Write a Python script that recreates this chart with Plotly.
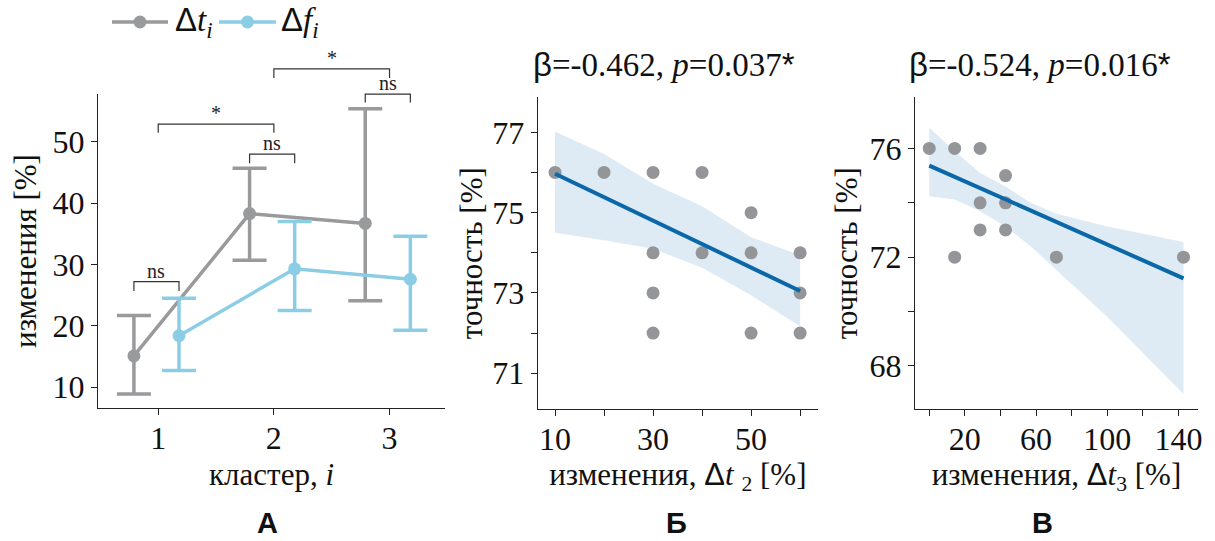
import plotly.graph_objects as go

# ---------------- data ----------------
clusters = [1, 2, 3]
dt_mean = [15.1, 38.3, 36.7]
dt_hi = [21.7, 45.7, 55.4]
dt_lo = [8.9, 30.7, 24.1]
df_mean = [18.4, 29.3, 27.6]
df_hi = [24.5, 37.0, 34.6]
df_lo = [12.7, 22.5, 19.3]
dodge_t = -0.21
dodge_f = 0.18
series_names = ["<span style='font-family:Liberation Sans'>Δ</span><i>t</i><sub><i>i</i></sub>",
                "<span style='font-family:Liberation Sans'>Δ</span><i>f</i><sub><i>i</i></sub>"]

# panel B scatter
b_x = [10, 20, 30, 40, 50, 30, 40, 50, 60, 30, 60, 30, 50, 60]
b_y = [76, 76, 76, 76, 75, 74, 74, 74, 74, 73, 73, 72, 72, 72]
b_fit_x = [10, 60]
b_fit_y = [75.97, 73.05]
b_ci_x = [10, 20, 30, 40, 50, 60]
b_ci_hi = [77.02, 76.46, 75.72, 75.16, 74.39, 73.94]
b_ci_lo = [74.50, 74.31, 74.10, 73.63, 72.94, 72.17]

# panel C scatter
c_x = [0, 14.29, 28.57, 42.86, 28.57, 42.86, 28.57, 42.86, 14.29, 71.43, 142.86]
c_y = [76, 76, 76, 75, 74, 74, 73, 73, 72, 72, 72]
c_fit_x = [0, 142.86]
c_fit_y = [75.37, 71.22]
c_ci_x = [0, 14.29, 28.57, 42.86, 57, 71.43, 100, 142.86]
c_ci_hi = [76.76, 75.9, 75.1, 74.6, 74.0, 73.6, 73.13, 72.56]
c_ci_lo = [74.24, 74.12, 73.69, 73.13, 72.4, 71.53, 69.81, 66.96]

# significance brackets: (x0, x1, y_top, y_leg, label)
brackets = [
    (0.79, 1.18, 27.2, 25.7, "ns"),
    (1.0, 2.0, 52.9, 51.5, "*"),
    (1.79, 2.18, 48.0, 46.5, "ns"),
    (2.0, 3.0, 61.9, 60.4, "*"),
    (2.79, 3.18, 57.8, 56.4, "ns"),
]

GRAY = "#999a9c"
SKY = "#8ccde6"
FIT = "#0a67a8"
BAND = "rgba(190,215,235,0.5)"
PT = "#939598"
AX = "#222222"
SERIF = "Liberation Serif"
SANS = "Liberation Sans"
W, H = 1215, 541

A_X = [0.48, 3.48]
A_Y = [6.6, 57.8]
B_X = [6.48, 63.66]
B_Y = [70.11, 77.87]
C_X = [-8.0, 151.0]
C_Y = [66.41, 77.88]

fig = go.Figure()

# ---------- Panel A ----------
fig.add_trace(go.Scatter(
    x=[c + dodge_t for c in clusters], y=dt_mean, mode="lines+markers",
    line=dict(color=GRAY, width=3.5), marker=dict(size=13, color=GRAY),
    error_y=dict(type="data", symmetric=False,
                 array=[h - m for h, m in zip(dt_hi, dt_mean)],
                 arrayminus=[m - l for m, l in zip(dt_mean, dt_lo)],
                 color=GRAY, thickness=3.5, width=17),
    name=series_names[0], xaxis="x", yaxis="y", showlegend=False))
fig.add_trace(go.Scatter(
    x=[c + dodge_f for c in clusters], y=df_mean, mode="lines+markers",
    line=dict(color=SKY, width=3.5), marker=dict(size=13, color=SKY),
    error_y=dict(type="data", symmetric=False,
                 array=[h - m for h, m in zip(df_hi, df_mean)],
                 arrayminus=[m - l for m, l in zip(df_mean, df_lo)],
                 color=SKY, thickness=3.5, width=17),
    name=series_names[1], xaxis="x", yaxis="y", showlegend=False))

# ---------- Panel B ----------
fig.add_trace(go.Scatter(x=b_ci_x + b_ci_x[::-1], y=b_ci_hi + b_ci_lo[::-1],
                         fill="toself", fillcolor=BAND, line=dict(width=0),
                         mode="lines", hoverinfo="skip", showlegend=False,
                         xaxis="x2", yaxis="y2"))
fig.add_trace(go.Scatter(x=b_x, y=b_y, mode="markers",
                         marker=dict(size=13, color=PT), showlegend=False,
                         xaxis="x2", yaxis="y2"))
fig.add_trace(go.Scatter(x=b_fit_x, y=b_fit_y, mode="lines",
                         line=dict(color=FIT, width=4), showlegend=False,
                         xaxis="x2", yaxis="y2"))

# ---------- Panel C ----------
fig.add_trace(go.Scatter(x=c_ci_x + c_ci_x[::-1], y=c_ci_hi + c_ci_lo[::-1],
                         fill="toself", fillcolor=BAND, line=dict(width=0),
                         mode="lines", hoverinfo="skip", showlegend=False,
                         xaxis="x3", yaxis="y3"))
fig.add_trace(go.Scatter(x=c_x, y=c_y, mode="markers",
                         marker=dict(size=13, color=PT), showlegend=False,
                         xaxis="x3", yaxis="y3"))
fig.add_trace(go.Scatter(x=c_fit_x, y=c_fit_y, mode="lines",
                         line=dict(color=FIT, width=4), showlegend=False,
                         xaxis="x3", yaxis="y3"))

tickfont = dict(family=SERIF, size=32, color="#111")
titlefont = dict(family=SERIF, size=31, color="#111")
axis_common = dict(showline=True, linecolor=AX, linewidth=1.3, ticks="outside",
                   ticklen=6, tickwidth=1.3, tickcolor=AX, showgrid=False,
                   zeroline=False, tickfont=tickfont, mirror=False)
xaxis_common = dict(axis_common, ticklabelstandoff=-5)


def minor(d):
    return dict(tick0=0, dtick=d, ticks="outside", ticklen=6, tickwidth=1.3,
                tickcolor=AX, showgrid=False)


A_DOM_X = [0.0807, 0.3663]
A_DOM_Y = [0.2458, 0.8262]
B_DOM_X = [0.4426, 0.6733]
C_DOM_X = [0.7531, 0.9860]
BC_DOM_Y = [0.2440, 0.8200]

fig.update_layout(
    width=W, height=H,
    margin=dict(l=0, r=0, t=0, b=0, autoexpand=False),
    plot_bgcolor="white", paper_bgcolor="white",
    xaxis=dict(xaxis_common, domain=A_DOM_X, range=A_X, tickvals=clusters,
               title=dict(text="кластер, <i>i</i>", font=titlefont, standoff=8),
               anchor="y"),
    yaxis=dict(axis_common, domain=A_DOM_Y, range=A_Y,
               tickvals=[10, 20, 30, 40, 50],
               title=dict(text="изменения [%]", font=titlefont, standoff=6),
               anchor="x"),
    xaxis2=dict(xaxis_common, domain=B_DOM_X, range=B_X,
                tickvals=[10, 30, 50], minor=minor(10),
                title=dict(text="изменения, <span style='font-family:Liberation Sans'>Δ</span><i>t</i> <sub>2</sub> [%]",
                           font=titlefont, standoff=6),
                anchor="y2"),
    yaxis2=dict(axis_common, domain=BC_DOM_Y, range=B_Y,
                tickvals=[71, 73, 75, 77], minor=minor(1),
                title=dict(text="точность [%]", font=titlefont, standoff=0),
                anchor="x2"),
    xaxis3=dict(xaxis_common, domain=C_DOM_X, range=C_X,
                tickvals=[20, 60, 100, 140], minor=minor(20),
                title=dict(text="изменения, <span style='font-family:Liberation Sans'>Δ</span><i>t</i><sub>3</sub> [%]",
                           font=titlefont, standoff=6),
                anchor="y3"),
    yaxis3=dict(axis_common, domain=BC_DOM_Y, range=C_Y,
                tickvals=[68, 72, 76], minor=minor(2),
                title=dict(text="точность [%]", font=titlefont, standoff=2),
                anchor="x3"),
    showlegend=False,
)

# legend (drawn at the top-left, like the original)
leg_y = 1 - 22 / H
for (lx0, lx1, tx), col, nm in [((112, 168, 173), GRAY, series_names[0]),
                                ((219, 276, 279), SKY, series_names[1])]:
    fig.add_shape(type="line", xref="paper", yref="paper",
                  x0=lx0 / W, x1=lx1 / W, y0=leg_y, y1=leg_y,
                  line=dict(color=col, width=3.5))
    cx = (lx0 + lx1) / 2
    fig.add_shape(type="circle", xref="paper", yref="paper",
                  x0=(cx - 6.5) / W, x1=(cx + 6.5) / W,
                  y0=leg_y - 6.5 / H, y1=leg_y + 6.5 / H,
                  fillcolor=col, line=dict(width=0))
    fig.add_annotation(x=tx / W, y=leg_y, xref="paper", yref="paper", text=nm,
                       xanchor="left", yanchor="middle", showarrow=False,
                       font=dict(family=SERIF, size=33, color="#111"))

# brackets in panel A (converted through the axis range to domain coords)
def ydom(v):
    return (v - A_Y[0]) / (A_Y[1] - A_Y[0])

for x0, x1, yt, yl, lab in brackets:
    fig.add_shape(type="path", xref="x", yref="y domain",
                  path=f"M {x0},{ydom(yl)} L {x0},{ydom(yt)} L {x1},{ydom(yt)} L {x1},{ydom(yl)}",
                  line=dict(color="#333", width=1.2))
    fig.add_annotation(x=(x0 + x1) / 2, y=ydom(yt), xref="x", yref="y domain",
                       text=lab, showarrow=False, xanchor="center", yanchor="bottom", yshift=-2,
                       font=dict(family=SERIF, size=20, color="#222"))

# titles of B and C
fig.add_annotation(x=0.5463, y=1 - 65 / H, xref="paper", yref="paper",
                   xanchor="center", yanchor="middle",
                   text="<span style='font-family:Liberation Sans'>β</span>=-0.462, <i>p</i>=0.037<span style='font-family:Liberation Sans'>*</span>",
                   showarrow=False, font=dict(family=SERIF, size=33, color="#111"))
fig.add_annotation(x=0.856, y=1 - 65 / H, xref="paper", yref="paper",
                   xanchor="center", yanchor="middle",
                   text="<span style='font-family:Liberation Sans'>β</span>=-0.524, <i>p</i>=0.016<span style='font-family:Liberation Sans'>*</span>",
                   showarrow=False, font=dict(family=SERIF, size=33, color="#111"))

# panel letters
for xp, lab in [(0.2198, "А"), (0.557, "Б"), (0.8584, "В")]:
    fig.add_annotation(x=xp, y=1 - 523 / H, xref="paper", yref="paper", text=f"<b>{lab}</b>",
                       xanchor="center", yanchor="middle",
                       showarrow=False, font=dict(family=SANS, size=29, color="#111"))

fig.write_html("out.html")
